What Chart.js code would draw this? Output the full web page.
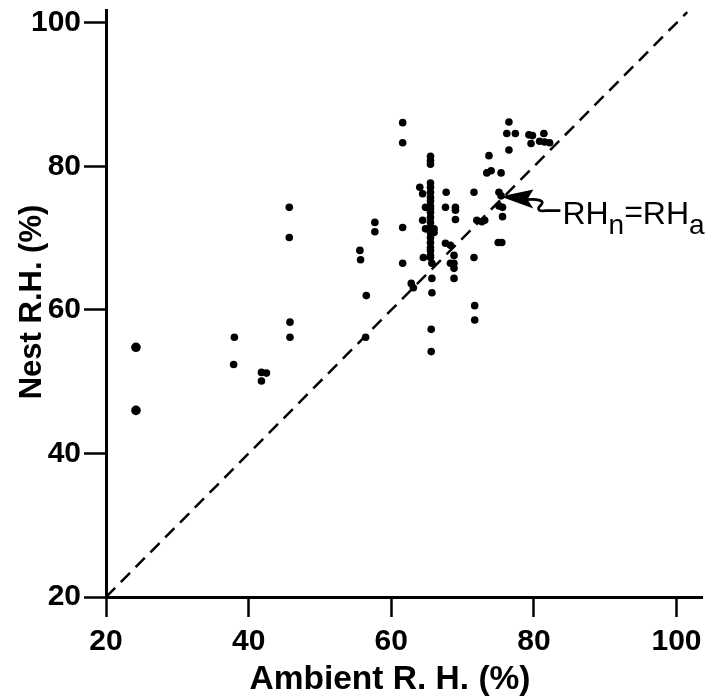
<!DOCTYPE html>
<html>
<head>
<meta charset="utf-8">
<script src="https://cdn.jsdelivr.net/npm/chart.js@4.4.1/dist/chart.umd.min.js"></script>
<style>
html,body{margin:0;padding:0;background:#fff}
#wrap{width:707px;height:700px;position:relative}
</style>
</head>
<body>
<div id="wrap"><canvas id="c"></canvas></div>
<script>
// ---- data ----
const ambientRH = [
  24.2, 24.2,
  38.0, 37.9, 41.8, 42.5, 41.8,
  45.8, 45.8, 45.7, 45.7,
  55.6, 55.7, 57.7, 57.7, 56.5, 56.4,
  61.6, 61.6, 61.6, 61.6,
  76.5, 76.2, 77.4, 76.5,
  79.3, 79.8, 79.6, 81.4, 80.8, 81.5, 82.2,
  65.5, 65.5, 65.5,
  73.7, 73.4, 74.0, 75.4,
  65.5, 65.5, 65.5, 65.5, 65.5, 65.5, 65.5, 65.5, 65.5, 65.5, 65.5, 65.5,
  65.5, 65.5, 65.5, 65.5, 65.5, 65.5, 65.7, 65.7, 65.7, 65.6, 65.6,
  64.0, 64.4, 64.8, 64.4, 64.8, 66.0, 66.0,
  67.7, 67.6, 69.0, 69.0, 69.0,
  71.6,
  72.0, 72.7, 73.1,
  75.1, 75.4, 75.1, 75.6, 75.6,
  67.6, 68.3,
  75.0, 75.5,
  64.5,
  68.8, 68.3, 68.8, 68.8,
  71.6,
  68.8,
  62.8, 63.1,
  71.7, 71.7
];
const nestRH = [
  54.8, 46.0,
  56.2, 52.4, 51.3, 51.2, 50.1,
  58.3, 56.2, 74.3, 70.1,
  68.3, 67.0, 72.2, 70.9, 62.0, 56.2,
  86.1, 83.3, 71.5, 66.5,
  86.2, 84.6, 84.6, 82.3,
  84.4, 84.3, 83.2, 84.6, 83.5, 83.4, 83.3,
  81.4, 80.8, 80.3,
  81.5, 79.1, 79.4, 79.1,
  77.7, 77.1, 76.4, 75.7, 75.2, 74.5, 74.1, 73.6, 72.9, 72.2, 71.5, 70.1,
  70.8, 69.4, 68.7, 68.3, 67.6, 67.3, 66.5, 64.4, 62.4, 57.3, 54.2,
  77.1, 76.2, 74.3, 72.5, 71.3, 71.3, 70.8,
  76.4, 74.3, 74.3, 73.9, 72.6,
  76.4,
  72.5, 72.3, 72.5,
  76.4, 75.9, 74.5, 74.3, 73.0,
  69.3, 69.0,
  69.4, 69.4,
  67.3,
  67.6, 66.5, 66.5, 65.8,
  67.3,
  64.4,
  63.7, 63.1,
  60.6, 58.6
];
const xTickValues = [20, 40, 60, 80, 100];
const yTickValues = [20, 40, 60, 80, 100];
const equalityLine = [20, 101.5];           // RHn = RHa
const annotationTarget = [75.3, 75.8];       // where the arrow points
const xTitle = 'Ambient R. H. (%)';
const yTitle = 'Nest R.H. (%)';

// ---- chart ----
const FONT = "'Liberation Sans', Arial, Helvetica, sans-serif";
const points = ambientRH.map((a, i) => ({x: a, y: nestRH[i]}));
const diag = equalityLine.map(v => ({x: v, y: v}));

const extras = {
  id: 'extras',
  afterDraw(chart) {
    const {ctx, scales: {x, y}} = chart;
    ctx.save();
    ctx.fillStyle = '#000';
    ctx.strokeStyle = '#000';
    // axis titles
    ctx.font = 'bold 33.5px ' + FONT;
    ctx.textAlign = 'center';
    ctx.textBaseline = 'alphabetic';
    ctx.fillText(xTitle, 390, 689);
    ctx.save();
    ctx.translate(41, 302);
    ctx.rotate(-Math.PI / 2);
    ctx.font = 'bold 31px ' + FONT;
    ctx.fillText(yTitle, 0, 0);
    ctx.restore();

    // arrow with squiggle + label
    const tx = x.getPixelForValue(annotationTarget[0]);
    const ty = y.getPixelForValue(annotationTarget[1]);
    ctx.beginPath();
    ctx.moveTo(tx, ty);
    ctx.lineTo(tx + 33, ty - 7);
    ctx.lineTo(tx + 27, ty + 3);
    ctx.lineTo(tx + 33, ty + 12);
    ctx.closePath();
    ctx.fill();
    ctx.lineWidth = 2.8;
    ctx.beginPath();
    ctx.moveTo(tx + 26, ty + 3);
    ctx.bezierCurveTo(tx + 37, ty + 2, tx + 46, ty + 4, tx + 40, ty + 9);
    ctx.bezierCurveTo(tx + 36, ty + 13, tx + 39, ty + 15, tx + 45, ty + 14);
    ctx.lineTo(tx + 60, ty + 14);
    ctx.stroke();

    ctx.textAlign = 'left';
    let cx = tx + 62;
    const base = ty + 27;
    const parts = [
      ['RH', 32, 0], ['n', 28, 10], ['=', 32, -2], ['RH', 32, 0], ['a', 28, 10]
    ];
    for (const [t, s, dy] of parts) {
      ctx.font = s + 'px ' + FONT;
      ctx.fillText(t, cx, base + dy);
      cx += ctx.measureText(t).width;
    }
    ctx.restore();
  }
};

new Chart(document.getElementById('c'), {
  type: 'scatter',
  data: {
    datasets: [
      {
        data: diag,
        showLine: true,
        borderColor: '#000',
        borderWidth: 2.5,
        borderDash: [13, 8],
        pointRadius: 0,
        fill: false
      },
      {
        data: points,
        backgroundColor: '#000',
        borderWidth: 0,
        pointRadius: ctx => (ctx.raw && ctx.raw.x < 30 ? 4.8 : 3.8)
      }
    ]
  },
  options: {
    responsive: true,
    maintainAspectRatio: false,
    animation: false,
    events: [],
    layout: {padding: {top: 10, right: 0, left: 0, bottom: 0}},
    plugins: {legend: {display: false}, tooltip: {enabled: false}},
    scales: {
      x: {
        type: 'linear',
        min: 20,
        max: 103.6,
        border: {display: true, color: '#000', width: 3},
        grid: {display: true, drawOnChartArea: false, drawTicks: true, tickLength: 20, tickWidth: 2.5, tickColor: '#000'},
        ticks: {color: '#000', font: {family: FONT, size: 30, weight: 'bold'}, padding: 7, autoSkip: false, maxRotation: 0},
        afterBuildTicks: axis => { axis.ticks = xTickValues.map(v => ({value: v})); },
        afterFit: axis => { axis.height = 103; axis.paddingLeft = 0; axis.paddingRight = 0; }
      },
      y: {
        type: 'linear',
        min: 20,
        max: 101.8,
        border: {display: true, color: '#000', width: 3},
        grid: {display: true, drawOnChartArea: false, drawTicks: true, tickLength: 22, tickWidth: 2.5, tickColor: '#000'},
        ticks: {color: '#000', font: {family: FONT, size: 30, weight: 'bold'}, padding: 3, autoSkip: false},
        afterBuildTicks: axis => { axis.ticks = yTickValues.map(v => ({value: v})); },
        afterFit: axis => { axis.width = 106; axis.paddingTop = 0; axis.paddingBottom = 0; }
      }
    }
  },
  plugins: [extras]
});
</script>
</body>
</html>
